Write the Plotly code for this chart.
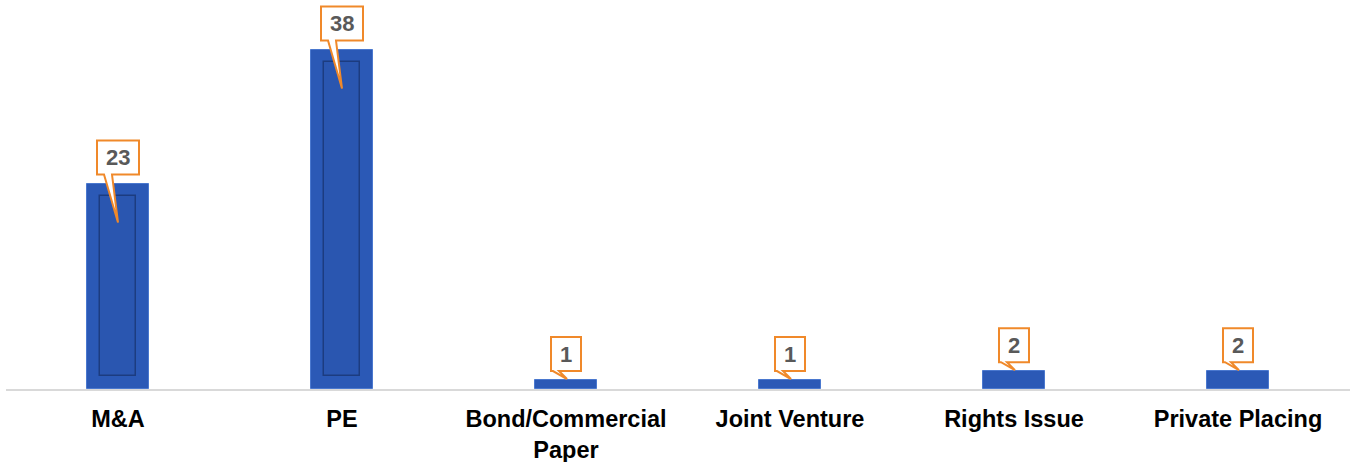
import plotly.graph_objects as go

categories = ["M&A", "PE", "Bond/Commercial<br>Paper", "Joint Venture", "Rights Issue", "Private Placing"]
values = [23, 38, 1, 1, 2, 2]
label_texts = ["23", "38", "1", "1", "2", "2"]

W, H = 1356, 462
M_T, M_B, M_L, M_R = 4, 73, 6, 6
Y_MAX = 43.1
ppu = (H - M_T - M_B) / Y_MAX  # pixels per data unit

ORANGE = "#f0892a"
BLUE = "#2b59b6"
TEXT_GREY = "#595959"
FONT = "Liberation Sans, Arial, sans-serif"

fig = go.Figure()

# outer bar
fig.add_trace(go.Bar(
    x=list(range(len(categories))), y=values, width=0.277,
    marker=dict(color=BLUE, line=dict(color="#4a78cf", width=1)),
    hoverinfo="skip", showlegend=False,
))

# inner bevel panel (only where the bar is tall enough)
inner_base = 13 / ppu
inner_y = [v - 25 / ppu if v - 25 / ppu > 0 else None for v in values]
fig.add_trace(go.Bar(
    x=list(range(len(categories))), y=inner_y, base=inner_base, width=0.16,
    marker=dict(color="#2a56b0", line=dict(color="#1c3c80", width=1.5)),
    hoverinfo="skip", showlegend=False,
))

# callouts
for i, (v, t) in enumerate(zip(values, label_texts)):
    half = 21 if len(t) > 1 else 15
    bot, top = 9, 43
    if v > 10:
        tip_x, tip_y = 0, -39
        t1, t2 = -14, -6
    else:
        tip_x, tip_y = 1, 1
        t1, t2 = -13, -7
    path = (f"M {-half},{bot} L {t1},{bot} L {tip_x},{tip_y} L {t2},{bot} "
            f"L {half},{bot} L {half},{top} L {-half},{top} Z")
    fig.add_shape(
        type="path", path=path,
        xref="x", yref="y", xsizemode="pixel", ysizemode="pixel",
        xanchor=i, yanchor=v,
        fillcolor="white", line=dict(color=ORANGE, width=2), layer="above",
    )
    fig.add_annotation(
        x=i, y=v, text=t, showarrow=False, yshift=26,
        font=dict(family=FONT, size=22, color=TEXT_GREY, weight="bold"),
    )

fig.update_layout(
    width=W, height=H,
    margin=dict(t=M_T, b=M_B, l=M_L, r=M_R, autoexpand=False),
    paper_bgcolor="white", plot_bgcolor="white",
    barmode="overlay", bargap=0,
    xaxis=dict(
        tickmode="array", tickvals=list(range(len(categories))), ticktext=categories,
        range=[-0.5, len(categories) - 0.5],
        showgrid=False, zeroline=False, automargin=False,
        showline=True, linecolor="#d9d9d9", linewidth=2,
        ticks="", ticklabelstandoff=8,
        tickfont=dict(family=FONT, size=23.5, color="black", weight="bold"),
    ),
    yaxis=dict(range=[0, Y_MAX], visible=False, showgrid=False, zeroline=False, automargin=False),
)

fig.write_html(
    "out.html",
    config={"displayModeBar": False},
    post_script="document.body.style.margin='0';document.body.style.overflow='hidden';",
)
